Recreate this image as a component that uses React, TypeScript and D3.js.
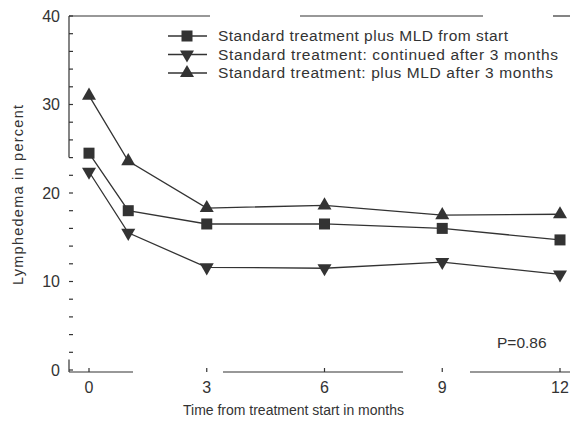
import React from "react";
import * as d3 from "d3";

const months = [0, 1, 3, 6, 9, 12];
const mldFromStart = [24.5, 18.0, 16.5, 16.5, 16.0, 14.7];
const continued = [22.4, 15.5, 11.6, 11.5, 12.2, 10.8];
const mldAfter3 = [31.0, 23.6, 18.3, 18.6, 17.5, 17.6];
const seriesNames = [
  "Standard treatment plus MLD from start",
  "Standard treatment: continued after 3 months",
  "Standard treatment: plus MLD after 3 months",
];
const xTicks = [0, 3, 6, 9, 12];
const yTicks = [0, 10, 20, 30, 40];
const yMinorTicks = d3.range(0, 41, 2);

const W = 570, H = 424;
const INK = "#333";
const FONT = "Liberation Sans, Arial, sans-serif";

const x = d3.scaleLinear().domain([0, 12]).range([89, 560]);
const y = d3.scaleLinear().domain([0, 40]).range([370, 16]);

function Marker({ kind, cx, cy }: { kind: string; cx: number; cy: number }) {
  if (kind === "square") {
    return <rect x={cx - 5.5} y={cy - 5.5} width={11} height={11} fill={INK} />;
  }
  const sym = d3.symbol().type(d3.symbolTriangle).size(85)();
  const rot = kind === "down" ? 180 : 0;
  return <path d={sym || ""} transform={`translate(${cx},${cy}) rotate(${rot})`} fill={INK} />;
}

export default function App() {
  const series = [
    { name: seriesNames[0], values: mldFromStart, kind: "square", len: 290 },
    { name: seriesNames[1], values: continued, kind: "down", len: 340 },
    { name: seriesNames[2], values: mldAfter3, kind: "up", len: 335 },
  ];
  const line = d3
    .line<number>()
    .x((_, i) => x(months[i]))
    .y((v) => y(v));

  const axisY = 372;
  const leftX = 69;
  const bottomSegs: [number, number][] = [[leftX, 133], [223, 403], [470, 570]];
  const topSegs: [number, number][] = [[leftX, 210], [300, 483], [553, 570]];

  return (
    <svg width={W} height={H} style={{ position: "absolute", left: 0, top: 0, background: "#fff" }}>
      <rect width={W} height={H} fill="#fff" />
      <g stroke={INK} strokeWidth={1.2} fill="none">
        {bottomSegs.map(([a, b], i) => (
          <line key={"b" + i} x1={a} x2={b} y1={axisY} y2={axisY} />
        ))}
        {topSegs.map(([a, b], i) => (
          <line key={"t" + i} x1={a} x2={b} y1={y(40)} y2={y(40)} />
        ))}
        <line x1={leftX} x2={leftX} y1={y(40)} y2={y(24)} />
        <line x1={leftX} x2={leftX} y1={y(1.2)} y2={axisY} />
        {yMinorTicks.map((t) => (
          <line key={"ym" + t} x1={leftX} x2={leftX + 4} y1={y(t)} y2={y(t)} />
        ))}
        {xTicks.map((t) => (
          <line key={"xt" + t} x1={x(t)} x2={x(t)} y1={axisY} y2={axisY - 4} />
        ))}
      </g>
      <g fill={INK} fontFamily={FONT} fontSize={16}>
        {yTicks.map((t) => (
          <text key={"yl" + t} x={60} y={y(t)} dy="0.35em" textAnchor="end">
            {t}
          </text>
        ))}
        {xTicks.map((t) => (
          <text key={"xl" + t} x={x(t)} y={393} textAnchor="middle">
            {t}
          </text>
        ))}
      </g>
      <text x={183} y={415} textLength={221} lengthAdjust="spacing" fontFamily={FONT} fontSize={14} fill={INK}>
        Time from treatment start in months
      </text>
      <text
        transform={`translate(23,${285}) rotate(-90)`}
        textLength={180}
        lengthAdjust="spacing"
        fontFamily={FONT}
        fontSize={14.5}
        fill={INK}
      >
        Lymphedema in percent
      </text>
      {series.map((s) => (
        <g key={s.name}>
          <path d={line(s.values) || ""} fill="none" stroke={INK} strokeWidth={1.3} />
          {s.values.map((v, i) => (
            <Marker key={i} kind={s.kind} cx={x(months[i])} cy={y(v)} />
          ))}
        </g>
      ))}
      {series.map((s, i) => {
        const ly = 36 + i * 18.5;
        return (
          <g key={"lg" + i}>
            <line x1={168} x2={207} y1={ly} y2={ly} stroke={INK} strokeWidth={1.3} />
            <Marker kind={s.kind} cx={187} cy={ly} />
            <text x={218} y={ly} dy="0.35em" textLength={s.len} lengthAdjust="spacing" fontFamily={FONT} fontSize={15.5} fill={INK}>
              {s.name}
            </text>
          </g>
        );
      })}
      <text x={497} y={348} fontFamily={FONT} fontSize={15.5} fill={INK}>
        P=0.86
      </text>
    </svg>
  );
}
